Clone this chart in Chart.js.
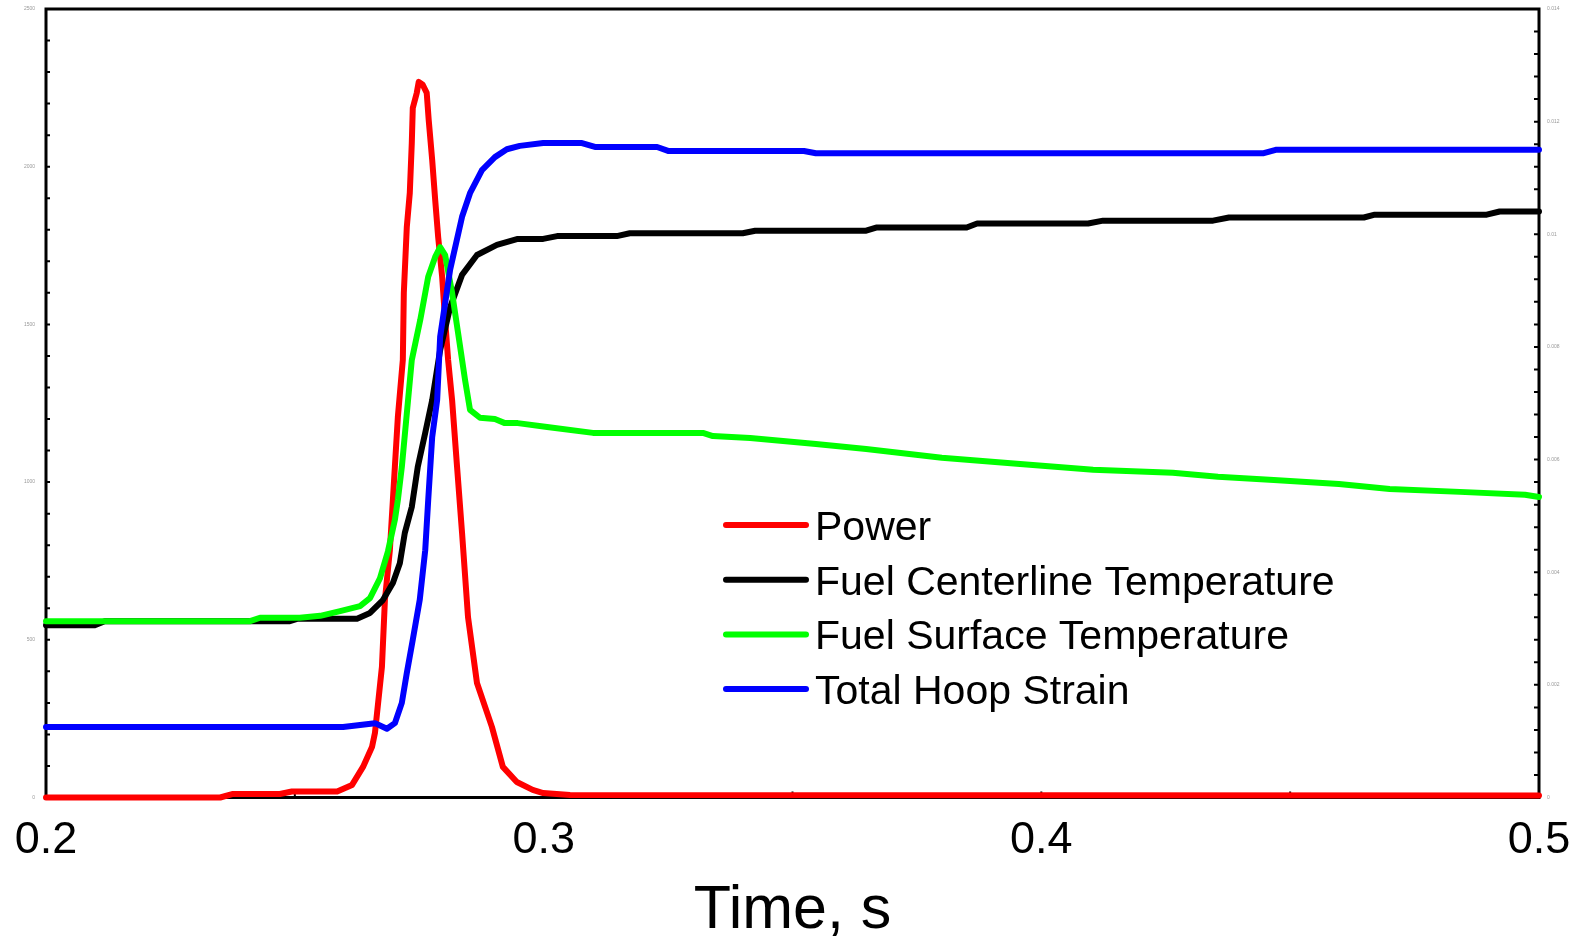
<!DOCTYPE html>
<html>
<head>
<meta charset="utf-8">
<script src="https://cdn.jsdelivr.net/npm/chart.js@4"></script>
<style>
  html, body { margin: 0; padding: 0; background: #fff; }
  #wrap { width: 1579px; height: 942px; position: relative; }
</style>
</head>
<body>
<div id="wrap"><canvas id="c"></canvas></div>
<script>
// series names and colours (legend order)
const seriesNames  = ['Power', 'Fuel Centerline Temperature', 'Fuel Surface Temperature', 'Total Hoop Strain'];
const seriesColors = ['#ff0000', '#000000', '#00ff00', '#0000ff'];

// Power (left axis)
const powerT = [0.2, 0.235, 0.2374, 0.247, 0.2494, 0.2585, 0.2615, 0.2637, 0.2655, 0.2661, 0.2675, 0.2681,
  0.2691, 0.2697, 0.2701, 0.2707, 0.2717, 0.2719, 0.2725, 0.2731, 0.2735, 0.2737, 0.2745, 0.2749,
  0.2757, 0.2765, 0.2769, 0.2776, 0.2782, 0.2788, 0.2796, 0.2802, 0.2808, 0.2816, 0.2826, 0.2836,
  0.2848, 0.2866, 0.2896, 0.2918, 0.2946, 0.2978, 0.2999, 0.3053, 0.5];
const powerV = [0, 0, 11, 11, 19, 19, 40, 97, 160, 205, 414, 626,
  785, 943, 1048, 1206, 1387, 1600, 1809, 1917, 2075, 2186, 2234, 2269,
  2260, 2234, 2148, 2021, 1895, 1777, 1651, 1514, 1387, 1260, 1048, 839,
  572, 363, 224, 97, 49, 24, 14, 8, 6];

// Fuel centerline temperature (left axis)
const centerT = [0.2, 0.2098, 0.2118, 0.249, 0.2506, 0.2625, 0.2651, 0.2677, 0.2697, 0.2711, 0.2721, 0.2735,
  0.2747, 0.2762, 0.2776, 0.2792, 0.2812, 0.2836, 0.2866, 0.2906, 0.2948, 0.2999, 0.3027, 0.3147,
  0.3173, 0.34, 0.3425, 0.3648, 0.3668, 0.385, 0.3871, 0.4094, 0.4124, 0.4345, 0.4377, 0.4648,
  0.467, 0.4895, 0.4921, 0.5];
const centerV = [546, 546, 559, 559, 567, 567, 585, 626, 680, 743, 839, 921,
  1048, 1156, 1260, 1419, 1554, 1657, 1720, 1752, 1771, 1771, 1780, 1780,
  1789, 1789, 1797, 1797, 1807, 1807, 1820, 1820, 1829, 1829, 1839, 1839,
  1848, 1848, 1858, 1858];

// Fuel surface temperature (left axis)
const surfaceT = [0.2, 0.241, 0.243, 0.251, 0.2551, 0.2591, 0.2631, 0.2651, 0.2671, 0.2687, 0.2701, 0.2707,
  0.2715, 0.2735, 0.2752, 0.2768, 0.2782, 0.2792, 0.2802, 0.2816, 0.2828, 0.2842, 0.2852, 0.2872,
  0.2902, 0.2922, 0.2948, 0.3007, 0.3099, 0.332, 0.334, 0.3415, 0.3547, 0.3648, 0.38, 0.3951,
  0.4104, 0.4264, 0.4355, 0.4467, 0.4598, 0.47, 0.4841, 0.4972, 0.5];
const surfaceV = [559, 559, 570, 570, 576, 591, 607, 632, 695, 780, 880, 943,
  1048, 1387, 1514, 1651, 1714, 1745, 1720, 1600, 1473, 1324, 1229, 1204,
  1200, 1187, 1187, 1175, 1156, 1156, 1146, 1140, 1121, 1105, 1077, 1058,
  1039, 1030, 1017, 1007, 994, 978, 969, 960, 953];

// Total hoop strain (right axis)
const strainT = [0.2, 0.2597, 0.2661, 0.2685, 0.2701, 0.2715, 0.2725, 0.2737, 0.2751, 0.2762, 0.2768, 0.2776,
  0.2786, 0.2792, 0.2812, 0.2836, 0.2852, 0.2876, 0.2902, 0.2926, 0.2952, 0.2999, 0.3077, 0.3103,
  0.3228, 0.325, 0.3523, 0.3547, 0.4447, 0.4471, 0.5];
const strainV = [0.00125, 0.00125, 0.00132, 0.00122, 0.00132, 0.00168, 0.00221, 0.0028, 0.00351, 0.00439, 0.00528, 0.0064,
  0.00706, 0.00818, 0.00937, 0.01031, 0.01073, 0.01114, 0.01137, 0.01151, 0.01157, 0.01162, 0.01162, 0.01155,
  0.01155, 0.01148, 0.01148, 0.01144, 0.01144, 0.0115, 0.0115];

// labelled ticks
const xLabelTicks     = [0.2, 0.3, 0.4, 0.5];
const leftLabelTicks  = [0, 500, 1000, 1500, 2000, 2500];
const rightLabelTicks = [0, 0.002, 0.004, 0.006, 0.008, 0.01, 0.012, 0.014];

const FONT = "'Liberation Sans', Arial, sans-serif";
const pts = (ts, vs) => ts.map((t, i) => ({ x: t, y: vs[i] }));
const near = (v, list) => list.find(l => Math.abs(v - l) < 1e-7);

// frame + inward tick marks
const frameTicks = {
  id: 'frameTicks',
  beforeDatasetsDraw(chart) {
    const { ctx, chartArea: a, scales } = chart;
    ctx.save();
    ctx.strokeStyle = '#000';
    ctx.lineWidth = 2;
    ctx.beginPath();
    scales.x.ticks.forEach(t => {
      const px = scales.x.getPixelForValue(t.value);
      ctx.moveTo(px, a.bottom); ctx.lineTo(px, a.bottom - 6);
    });
    scales.y.ticks.forEach(t => {
      const py = scales.y.getPixelForValue(t.value);
      ctx.moveTo(a.left, py); ctx.lineTo(a.left + 4, py);
    });
    scales.y1.ticks.forEach(t => {
      const py = scales.y1.getPixelForValue(t.value);
      ctx.moveTo(a.right, py); ctx.lineTo(a.right - 5, py);
    });
    ctx.stroke();
    ctx.lineWidth = 3;
    ctx.strokeRect(a.left, a.top, a.right - a.left, a.bottom - a.top);
    ctx.restore();
  }
};

// legend drawn inside the plot
const insideLegend = {
  id: 'insideLegend',
  afterDatasetsDraw(chart) {
    const { ctx, chartArea: a } = chart;
    const x1 = a.left + 680, x2 = a.left + 760, tx = a.left + 769;
    const y0 = a.top + 516, step = 54.7;
    ctx.save();
    ctx.font = '41px ' + FONT;
    ctx.textBaseline = 'alphabetic';
    ctx.lineCap = 'round';
    ctx.lineWidth = 6;
    chart.data.datasets.forEach((ds, i) => {
      const y = y0 + i * step;
      ctx.strokeStyle = ds.borderColor;
      ctx.beginPath(); ctx.moveTo(x1, y); ctx.lineTo(x2, y); ctx.stroke();
      ctx.fillStyle = '#000';
      ctx.fillText(ds.label, tx, y + 15);
    });
    ctx.restore();
  }
};

const line = (i, data, axis, order) => ({
  label: seriesNames[i], data, yAxisID: axis, order,
  borderColor: seriesColors[i], backgroundColor: seriesColors[i],
  borderWidth: 6, pointRadius: 0, tension: 0, fill: false, clip: false,
  borderJoinStyle: 'round', borderCapStyle: 'round'
});

new Chart(document.getElementById('c'), {
  type: 'line',
  data: {
    datasets: [
      line(0, pts(powerT, powerV), 'y', 4),
      line(1, pts(centerT, centerV), 'y', 3),
      line(2, pts(surfaceT, surfaceV), 'y', 2),
      line(3, pts(strainT, strainV), 'y1', 1)
    ]
  },
  options: {
    responsive: true,
    maintainAspectRatio: false,
    animation: false,
    layout: { padding: { top: 9, left: 0, right: 0, bottom: 0 } },
    plugins: { legend: { display: false }, tooltip: { enabled: false } },
    scales: {
      x: {
        type: 'linear', position: 'bottom', min: 0.2, max: 0.5,
        afterFit: s => { s.height = 144.5; s.paddingLeft = 0; s.paddingRight = 0; },
        grid: { display: false, drawTicks: false },
        border: { display: false },
        ticks: {
          stepSize: 0.05, autoSkip: false, maxRotation: 0, padding: 16,
          color: '#000', font: { family: FONT, size: 45 },
          callback: v => { const m = near(v, xLabelTicks); return m === undefined ? '' : m.toFixed(1); }
        },
        title: {
          display: true, text: 'Time, s', color: '#000',
          font: { family: FONT, size: 61, lineHeight: 1 }, padding: { top: 0, bottom: 0 }
        }
      },
      y: {
        position: 'left', min: 0, max: 2500,
        afterFit: s => { s.width = 46; s.paddingTop = 0; s.paddingBottom = 0; },
        grid: { display: false, drawTicks: false },
        border: { display: false },
        ticks: {
          stepSize: 100, autoSkip: false, padding: 11,
          color: '#999', font: { family: FONT, size: 5 },
          callback: v => { const m = near(v, leftLabelTicks); return m === undefined ? '' : String(m); }
        }
      },
      y1: {
        position: 'right', min: 0, max: 0.014,
        afterFit: s => { s.width = 40; s.paddingTop = 0; s.paddingBottom = 0; },
        grid: { display: false, drawTicks: false },
        border: { display: false },
        ticks: {
          stepSize: 0.0004, autoSkip: false, padding: 8,
          color: '#999', font: { family: FONT, size: 5 },
          callback: v => { const m = near(v, rightLabelTicks); return m === undefined ? '' : String(m); }
        }
      }
    }
  },
  plugins: [frameTicks, insideLegend]
});
</script>
</body>
</html>
